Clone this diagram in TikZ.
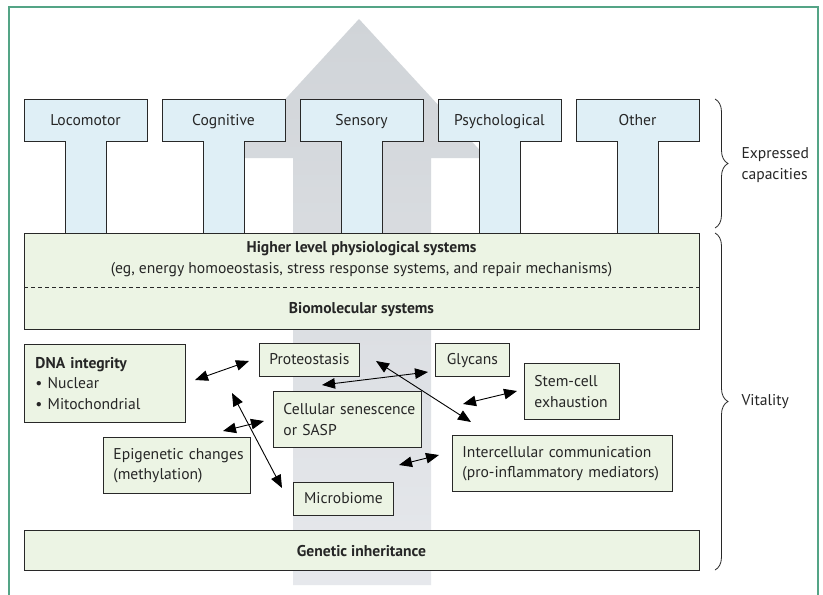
\documentclass[tikz,border=0pt]{standalone}
\usepackage{fontspec}
\setmainfont{PT Sans}
\usetikzlibrary{arrows.meta,decorations.pathreplacing,shapes.geometric}
\definecolor{framecol}{RGB}{84,164,134}
\definecolor{pillfill}{RGB}{223,239,246}
\definecolor{greenfill}{RGB}{236,244,228}
\definecolor{edgecol}{RGB}{40,40,40}
\definecolor{graytop}{RGB}{208,212,216}
\definecolor{graybot}{RGB}{230,232,236}
\newcommand{\oneline}[1]{\mbox{#1}}
\begin{document}
\begin{tikzpicture}[x=1pt,y=-1pt,
  every node/.style={font=\fontsize{15.6}{20.5}\selectfont, text=black!85},
  single/.style={text height=12pt, text depth=2pt},
  pillar/.style={draw=edgecol, fill=pillfill, line width=0.9pt, line join=miter},
  gbox/.style={draw=edgecol, fill=greenfill, line width=0.9pt, inner sep=0pt},
  lbox/.style={draw=edgecol, fill=greenfill, line width=0.9pt, align=left, inner xsep=10pt, inner ysep=0pt, anchor=north west},
  dbl/.style={{Triangle[length=13pt,width=10.5pt]}-{Triangle[length=13pt,width=10.5pt]}, line width=0.9pt, black},
  bracestyle/.style={decorate, decoration={brace, amplitude=13pt}, line width=0.8pt, edgecol}
]
\useasboundingbox (0,0) rectangle (823,595);
\fill[white] (0,0) rectangle (823,595);
% frame
\draw[framecol, line width=1.3pt] (9,595) -- (9,7) -- (818,7) -- (818,595);
% big gray arrow
\shade[top color=graytop, bottom color=graybot, shading angle=0]
  (359,19) -- (487,158) -- (431,158) -- (431,585) -- (293,585) -- (293,158) -- (231,158) -- cycle;
% pillars
\foreach \cx/\lab/\nm in {85.5/Locomotor/loc, 223.5/Cognitive/cog, 361.5/Sensory/sen, 499.5/Psychological/psy, 637.5/Other/oth}{
  \draw[pillar] (\cx-61.5,99) -- (\cx+61.5,99) -- (\cx+61.5,141) -- (\cx+20.5,141) -- (\cx+20.5,233)
     -- (\cx-20.5,233) -- (\cx-20.5,141) -- (\cx-61.5,141) -- cycle;
  \node[single] (\nm) at (\cx,120) {\lab};
}
% physiological / biomolecular box
\node[gbox, minimum width=675pt, minimum height=96pt, anchor=north west] (phys) at (24,233) {};
\draw[edgecol, line width=0.8pt, dash pattern=on 4pt off 3pt] (phys.west |- 0,287) -- (phys.east |- 0,287);
\node[align=center] (hlt) at (361.5,259) {\textbf{Higher level physiological systems}\\(eg, energy homoeostasis, stress response systems, and repair mechanisms)};
\node[single] (bio) at (361.5,308) {\textbf{Biomolecular systems}};
% genetic inheritance
\node[gbox, minimum width=675pt, minimum height=40pt, anchor=north west] (gen) at (24,530) {};
\node[single] (gent) at (361.5,551) {\textbf{Genetic inheritance}};
% small boxes
\node[lbox, inner xsep=11pt, minimum width=161pt, minimum height=78pt, text width=139pt] (dna) at (24,344) {\oneline{\textbf{DNA integrity}}\\\oneline{\textbullet\ Nuclear}\\\oneline{\textbullet\ Mitochondrial}};
\node[gbox, single, minimum width=100pt, minimum height=33pt, anchor=north west] (prot) at (259,343) {Proteostasis};
\node[gbox, single, minimum width=74pt, minimum height=33pt, anchor=north west] (gly) at (435,343) {Glycans};
\node[lbox, minimum width=95pt, minimum height=56pt, text width=75pt] (stem) at (524,363) {\oneline{Stem-cell}\\\oneline{exhaustion}};
\node[lbox, minimum width=148pt, minimum height=56pt, text width=128pt] (sen2) at (273,391) {\oneline{Cellular senescence}\\\oneline{or SASP}};
\node[lbox, minimum width=220pt, minimum height=56pt, text width=200pt] (inter) at (452,435) {\oneline{Intercellular communication}\\\oneline{(pro-inflammatory mediators)}};
\node[lbox, minimum width=147pt, minimum height=56pt, text width=127pt] (epi) at (103,437) {\oneline{Epigenetic changes}\\\oneline{(methylation)}};
\node[gbox, single, minimum width=100pt, minimum height=33pt, anchor=north west] (mic) at (293,482) {Microbiome};
% arrow end points
\coordinate (a1s) at (195,380); \coordinate (a1e) at (249,361);
\coordinate (a2s) at (232,393); \coordinate (a2e) at (282,488);
\coordinate (a3s) at (223,431); \coordinate (a3e) at (264,421);
\coordinate (a4s) at (322,385); \coordinate (a4e) at (428,372);
\coordinate (a5s) at (376,361); \coordinate (a5e) at (471,422);
\coordinate (a6s) at (463,404); \coordinate (a6e) at (517,391);
\coordinate (a7s) at (399,465); \coordinate (a7e) at (439,455);
\foreach \i in {1,...,7}{ \draw[dbl] (a\i s) -- (a\i e); }
% braces
\coordinate (b1t) at (715,99); \coordinate (b1b) at (715,228);
\coordinate (b2t) at (715,233); \coordinate (b2b) at (715,570);
\draw[bracestyle] (b1t) -- (b1b);
\draw[bracestyle] (b2t) -- (b2b);
\node[align=left, anchor=west] (expr) at (738,165) {Expressed\\capacities};
\node[single, anchor=west] (vit) at (738,400) {Vitality};
\end{tikzpicture}
\end{document}
